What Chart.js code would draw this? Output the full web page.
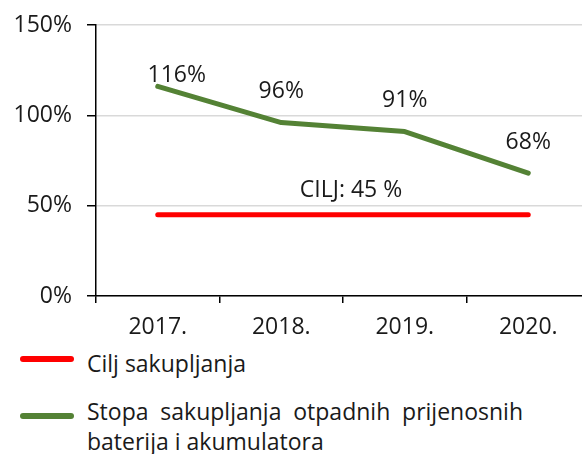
<!DOCTYPE html>
<html>
<head>
<meta charset="utf-8">
<script src="https://cdn.jsdelivr.net/npm/chart.js@4.4.0/dist/chart.umd.min.js"></script>
<style>
	html, body { margin: 0; padding: 0; background: #fff; overflow: hidden; width: 582px; height: 454px; }
	#wrap { position: relative; width: 582px; height: 454px; font-family: "Open Sans", sans-serif; color: #1a1a1a; }
	#chart { position: absolute; left: 0; top: 0; }
	.legend-item { position: absolute; left: 0; width: 582px; }
	.swatch { position: absolute; left: 20px; width: 54px; height: 6px; border-radius: 3px; }
	.legend-text { position: absolute; left: 87px; width: 436px; font-size: 23px; line-height: 30px; text-align: justify; }
</style>
</head>
<body>
<div id="wrap">
	<canvas id="chart" width="590" height="346"></canvas>
	<div class="legend-item" style="top: 344px;">
		<div class="swatch" style="top: 12px; background: #FF0000;"></div>
		<div class="legend-text" style="top: 4px;">Cilj sakupljanja</div>
	</div>
	<div class="legend-item" style="top: 397px;">
		<div class="swatch" style="top: 16px; background: #548235;"></div>
		<div class="legend-text" style="top: -1px;">Stopa sakupljanja otpadnih prijenosnih baterija i akumulatora</div>
	</div>
</div>

<script>
// Data
var years = ['2017.', '2018.', '2019.', '2020.'];
var collectionRate = [116, 96, 91, 68];
var collectionTarget = [45, 45, 45, 45];
var yTicks = [0, 50, 100, 150];

var textColor = '#1a1a1a';
var fontFamily = '"Open Sans", sans-serif';
var fontSize = 23;

/***************************************
          Value labels on the lines
***************************************/

var valueLabels = {
	id: 'valueLabels',
	afterDatasetsDraw: function(chart) {
		var ctx = chart.ctx;
		ctx.save();
		ctx.font = fontSize + 'px ' + fontFamily;
		ctx.fillStyle = textColor;
		ctx.textAlign = 'center';
		ctx.textBaseline = 'middle';

		// Green series: value above each point (first one nudged right, like the original)
		var pts = chart.getDatasetMeta(1).data;
		pts.forEach(function(p, i) {
			var dx = i === 0 ? 19 : 0;
			var dy = i === 0 ? -11 : -31;
			ctx.fillText(collectionRate[i] + '%', p.x + dx, p.y + dy);
		});

		// Target label over the red line
		var red = chart.getDatasetMeta(0).data;
		var midX = (red[1].x + red[2].x) / 2 + 8;
		ctx.fillText('CILJ: ' + collectionTarget[0] + ' %', midX, red[1].y - 24);
		ctx.restore();
	}
};

new Chart(document.getElementById('chart'), {
	type: 'line',
	data: {
		labels: years,
		datasets: [{
			label: 'Cilj sakupljanja',
			data: collectionTarget,
			borderColor: '#FF0000',
			borderWidth: 5,
			borderCapStyle: 'round',
			pointRadius: 0,
			tension: 0
		}, {
			label: 'Stopa sakupljanja otpadnih prijenosnih baterija i akumulatora',
			data: collectionRate,
			borderColor: '#548235',
			borderWidth: 5,
			borderCapStyle: 'round',
			borderJoinStyle: 'round',
			pointRadius: 0,
			tension: 0
		}]
	},
	options: {
		responsive: false,
		animation: false,
		events: [],
		layout: { padding: { top: 25, right: 0, bottom: 0, left: 0 } },
		plugins: {
			legend: { display: false },
			tooltip: { enabled: false }
		},
		scales: {
			y: {
				min: yTicks[0],
				max: yTicks[yTicks.length - 1],
				afterBuildTicks: function(scale) {
					scale.ticks = yTicks.map(function(v) { return { value: v }; });
				},
				afterFit: function(scale) {
					scale.width = 96;
					scale.paddingTop = 0;
				},
				border: { color: '#000', width: 1.5 },
				grid: {
					color: '#d9d9d9',
					lineWidth: 1.5,
					tickColor: '#000',
					tickLength: 9
				},
				ticks: {
					padding: 15,
					color: textColor,
					font: { family: fontFamily, size: fontSize },
					callback: function(v) { return v + '%'; }
				}
			},
			x: {
				offset: true,
				afterFit: function(scale) { scale.height = 50; },
				border: { color: '#000', width: 1.5 },
				grid: {
					offset: true,
					drawOnChartArea: false,
					tickColor: '#000',
					tickLength: 7,
					lineWidth: 1.5
				},
				ticks: {
					padding: 11,
					maxRotation: 0,
					color: textColor,
					font: { family: fontFamily, size: fontSize }
				}
			}
		}
	},
	plugins: [valueLabels]
});
</script>
</body>
</html>
